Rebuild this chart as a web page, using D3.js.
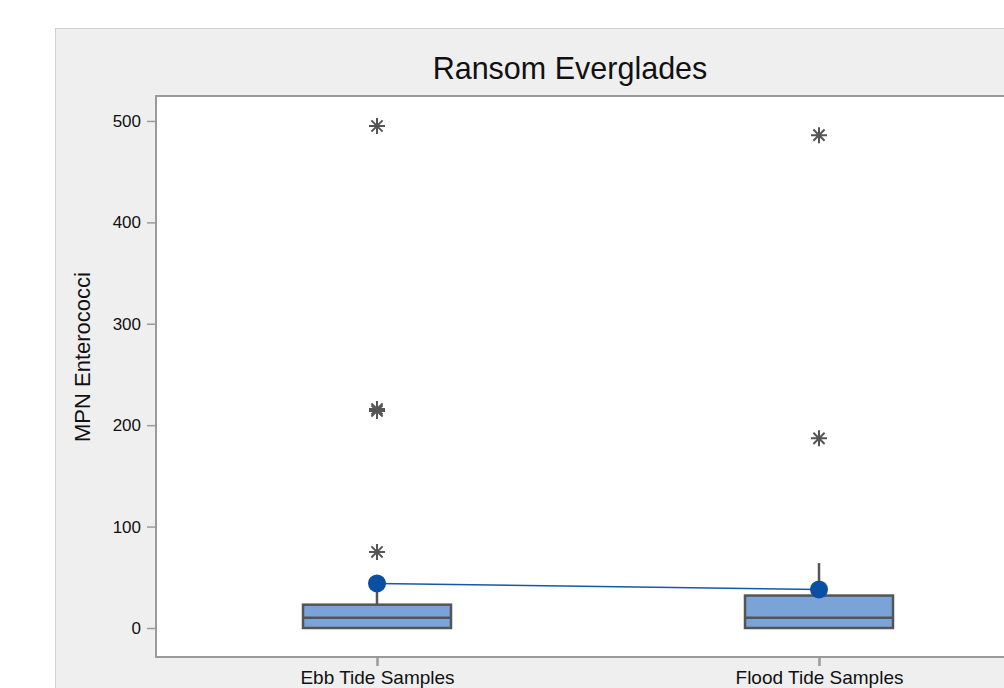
<!DOCTYPE html>
<html>
<head>
<meta charset="utf-8">
<script src="https://cdn.jsdelivr.net/npm/d3@7"></script>
<style>
  html, body { margin: 0; padding: 0; background: #fff; }
  svg { display: block; font-family: "Liberation Sans", Arial, Helvetica, sans-serif; }
</style>
</head>
<body>
<svg id="chart" width="1004" height="688"></svg>
<script>
// Box plot summary per tide group
const categories = ["Ebb Tide Samples", "Flood Tide Samples"];
const q1Values = [0, 0];
const medianValues = [10, 10];
const q3Values = [23, 32];
const whiskerLow = [0, 0];
const whiskerHigh = [42, 64];
const meanValues = [44, 38];
const outliersEbb = [75, 214, 216, 495];
const outliersFlood = [187, 486];
const yTicks = [0, 100, 200, 300, 400, 500];

const outliers = [outliersEbb, outliersFlood];

const svg = d3.select("#chart");

// Background panel
svg.append("rect").attr("x", 55.5).attr("y", 28.5)
  .attr("width", 1100).attr("height", 800)
  .attr("fill", "#efefef").attr("stroke", "#d0d0d0").attr("stroke-width", 1);

const plot = { left: 156, top: 96, right: 1040, bottom: 657 };

const x = d3.scalePoint().domain(categories)
  .range([plot.left, plot.right]).padding(0.5);
const y = d3.scaleLinear().domain([-28.6, 524.6]).range([plot.bottom, plot.top]);

// Plot area
svg.append("rect").attr("x", plot.left).attr("y", plot.top)
  .attr("width", plot.right - plot.left).attr("height", plot.bottom - plot.top)
  .attr("fill", "#fff").attr("stroke", "#9a9a9a").attr("stroke-width", 2);

// Title
svg.append("text").attr("x", 570).attr("y", 79).attr("text-anchor", "middle")
  .attr("font-size", 30.5).attr("fill", "#111").text("Ransom Everglades");

// Y axis
const yAxis = d3.axisLeft(y).tickValues(yTicks).tickSize(8).tickPadding(6);
const gy = svg.append("g").attr("transform", `translate(${plot.left - 1},0)`).call(yAxis);
gy.attr("font-size", 17).attr("font-family", "'Liberation Sans', Arial, sans-serif");
gy.select(".domain").remove();
gy.selectAll(".tick line").attr("stroke", "#9a9a9a").attr("stroke-width", 1.5);
gy.selectAll(".tick text").attr("fill", "#111");

svg.append("text")
  .attr("transform", `translate(90,357) rotate(-90)`)
  .attr("text-anchor", "middle").attr("font-size", 22).attr("fill", "#111")
  .text("MPN Enterococci");

// X axis
const xAxis = d3.axisBottom(x).tickSize(8).tickPadding(5);
const gx = svg.append("g").attr("transform", `translate(0,${plot.bottom + 1})`).call(xAxis);
gx.attr("font-size", 19).attr("font-family", "'Liberation Sans', Arial, sans-serif");
gx.select(".domain").remove();
gx.selectAll(".tick line").attr("stroke", "#9a9a9a").attr("stroke-width", 2.5);
gx.selectAll(".tick text").attr("fill", "#111");

const boxW = 148;
const groups = categories.map((c, i) => ({
  c, q1: q1Values[i], med: medianValues[i], q3: q3Values[i],
  lo: whiskerLow[i], hi: whiskerHigh[i], mean: meanValues[i], out: outliers[i]
}));

// Whiskers
svg.selectAll(".whisker").data(groups).join("line")
  .attr("x1", d => x(d.c)).attr("x2", d => x(d.c))
  .attr("y1", d => y(d.q3)).attr("y2", d => y(d.hi))
  .attr("stroke", "#555").attr("stroke-width", 2.5);

// Boxes
svg.selectAll(".box").data(groups).join("rect")
  .attr("x", d => x(d.c) - boxW / 2).attr("width", boxW)
  .attr("y", d => y(d.q3)).attr("height", d => y(d.q1) - y(d.q3))
  .attr("fill", "#7aa3d7").attr("stroke", "#555").attr("stroke-width", 2.5);

// Medians
svg.selectAll(".median").data(groups).join("line")
  .attr("x1", d => x(d.c) - boxW / 2).attr("x2", d => x(d.c) + boxW / 2)
  .attr("y1", d => y(d.med)).attr("y2", d => y(d.med))
  .attr("stroke", "#555").attr("stroke-width", 2.5);

// Outlier asterisks (8 arms)
const r = 8;
const asterisk = `M${-r},0L${r},0M0,${-r}L0,${r}` +
  `M${-r * 0.7},${-r * 0.7}L${r * 0.7},${r * 0.7}M${-r * 0.7},${r * 0.7}L${r * 0.7},${-r * 0.7}`;
groups.forEach(g => {
  svg.selectAll(null).data(g.out).join("path")
    .attr("d", asterisk)
    .attr("transform", v => `translate(${x(g.c)},${y(v)})`)
    .attr("fill", "none").attr("stroke", "#555").attr("stroke-width", 2);
});

// Mean connect line and markers
const meanLine = d3.line().x(d => x(d.c)).y(d => y(d.mean));
svg.append("path").datum(groups).attr("d", meanLine)
  .attr("fill", "none").attr("stroke", "#1558a8").attr("stroke-width", 1.5);
svg.selectAll(".mean").data(groups).join("circle")
  .attr("cx", d => x(d.c)).attr("cy", d => y(d.mean)).attr("r", 9)
  .attr("fill", "#0b4fa3");
</script>
</body>
</html>
